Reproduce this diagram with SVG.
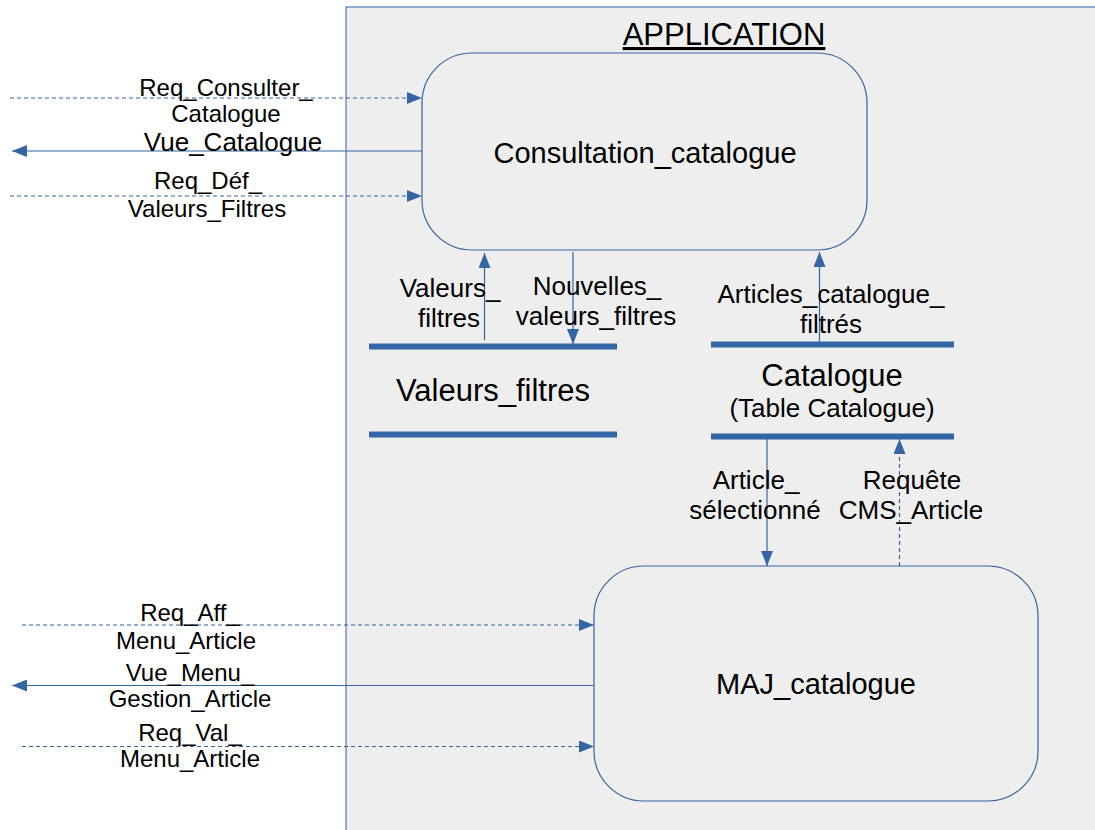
<svg xmlns="http://www.w3.org/2000/svg" width="1095" height="830" viewBox="0 0 1095 830">
  <defs>
    <style>
      .frame { fill: #eeeeee; stroke: #3465a4; stroke-width: 1; }
      .proc { fill: #eeeeee; stroke: #3465a4; stroke-width: 1.2; }
      .bar { stroke: #3465a4; stroke-width: 6; }
      .flow { fill: none; stroke: #3465a4; stroke-width: 1.2; }
      .dash { stroke-dasharray: 4 3; }
      text { font-family: "Liberation Sans", Arial, sans-serif; fill: #000; text-anchor: middle; }
      .lbl { font-size: 24px; }
      .lbl2 { font-size: 26px; }
      .ttl { font-size: 29px; }
      .store { font-size: 31px; }
    </style>
    <marker id="ah" viewBox="0 0 15 12" refX="15" refY="6" markerWidth="15" markerHeight="12" markerUnits="userSpaceOnUse" orient="auto">
      <path d="M0,0 L15,6 L0,12 Z" fill="#3465a4"/>
    </marker>
  </defs>

  <rect width="1095" height="830" fill="#ffffff"/>

  <!-- application boundary -->
  <g id="application">
    <rect class="frame" x="346" y="7" width="760" height="840"/>
    <text x="724" y="45" style="font-size:31px" text-decoration="underline">APPLICATION</text>
  </g>

  <!-- processes -->
  <g id="consultation_catalogue">
    <rect class="proc" x="422" y="53" width="445" height="197" rx="50" ry="50"/>
    <text class="ttl" x="645" y="163">Consultation_catalogue</text>
  </g>
  <g id="maj_catalogue">
    <rect class="proc" x="594" y="566" width="444" height="235" rx="50" ry="50"/>
    <text class="ttl" x="816" y="694">MAJ_catalogue</text>
  </g>

  <!-- data stores -->
  <g id="store_valeurs_filtres">
    <line class="bar" x1="369" y1="346.5" x2="617" y2="346.5"/>
    <line class="bar" x1="369" y1="434.5" x2="617" y2="434.5"/>
    <text class="store" x="493" y="401">Valeurs_filtres</text>
  </g>
  <g id="store_catalogue">
    <line class="bar" x1="711" y1="344.5" x2="954" y2="344.5"/>
    <line class="bar" x1="711" y1="436.5" x2="954" y2="436.5"/>
    <text class="store" x="832" y="386">Catalogue</text>
    <text class="lbl2" x="832" y="417">(Table Catalogue)</text>
  </g>

  <!-- flows -->
  <g id="connectors">
    <line class="flow dash" x1="10" y1="98" x2="422" y2="98" marker-end="url(#ah)"/>
    <line class="flow" x1="422" y1="151" x2="12" y2="151" marker-end="url(#ah)"/>
    <line class="flow dash" x1="10" y1="196" x2="422" y2="196" marker-end="url(#ah)"/>

    <line class="flow" x1="484.5" y1="340" x2="484.5" y2="253" marker-end="url(#ah)"/>
    <line class="flow" x1="573" y1="252" x2="573" y2="344" marker-end="url(#ah)"/>
    <line class="flow" x1="819.5" y1="342" x2="819.5" y2="252" marker-end="url(#ah)"/>

    <line class="flow" x1="767" y1="439" x2="767" y2="566" marker-end="url(#ah)"/>
    <line class="flow dash" x1="899.5" y1="566" x2="899.5" y2="439" marker-end="url(#ah)"/>

    <line class="flow dash" x1="22" y1="625" x2="594" y2="625" marker-end="url(#ah)"/>
    <line class="flow" x1="594" y1="685.5" x2="12" y2="685.5" marker-end="url(#ah)"/>
    <line class="flow dash" x1="22" y1="746.5" x2="594" y2="746.5" marker-end="url(#ah)"/>
  </g>

  <!-- flow labels -->
  <g id="labels">
    <text class="lbl" x="226" y="96">Req_Consulter_</text>
    <text class="lbl" x="226" y="122">Catalogue</text>
    <text class="lbl2" x="233" y="151">Vue_Catalogue</text>
    <text class="lbl" x="208" y="189">Req_Déf_</text>
    <text class="lbl" x="207" y="217">Valeurs_Filtres</text>

    <text class="lbl2" x="450" y="297">Valeurs_</text>
    <text class="lbl2" x="449" y="327">filtres</text>
    <text class="lbl2" x="597" y="295">Nouvelles_</text>
    <text class="lbl2" x="596" y="325">valeurs_filtres</text>
    <text class="lbl2" x="831" y="303">Articles_catalogue_</text>
    <text class="lbl2" x="831" y="333">filtrés</text>

    <text class="lbl2" x="756" y="489">Article_</text>
    <text class="lbl2" x="755" y="519">sélectionné</text>
    <text class="lbl2" x="912" y="489">Requête</text>
    <text class="lbl2" x="911" y="519">CMS_Article</text>

    <text class="lbl" x="190" y="621">Req_Aff_</text>
    <text class="lbl" x="186" y="649">Menu_Article</text>
    <text class="lbl" x="190" y="681">Vue_Menu_</text>
    <text class="lbl" x="190" y="707">Gestion_Article</text>
    <text class="lbl" x="190" y="741">Req_Val_</text>
    <text class="lbl" x="190" y="767">Menu_Article</text>
  </g>
</svg>
